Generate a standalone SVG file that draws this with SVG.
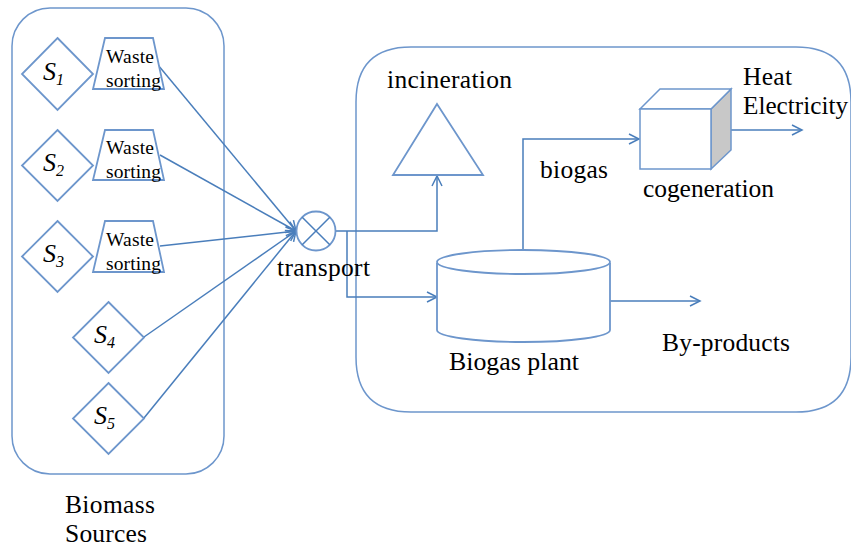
<svg xmlns="http://www.w3.org/2000/svg" width="851" height="549" viewBox="0 0 851 549" font-family="'Liberation Serif','Times New Roman','DejaVu Serif',serif">
<defs>
<style>
.ln{fill:none;stroke:#4a7ebb;stroke-width:1.5}
.sh{fill:#fff;stroke:#6d96cc;stroke-width:1.8}
text{font-family:'Liberation Serif','Times New Roman','DejaVu Serif',serif;fill:#000}
.t{font-size:25.5px}
.ws{font-size:19.5px}
.s{font-size:26px;font-style:italic}
</style>
<marker id="ar" markerUnits="userSpaceOnUse" markerWidth="14" markerHeight="14" refX="11" refY="6" orient="auto">
<path d="M1,1 L11,6 L1,11" fill="none" stroke="#4a7ebb" stroke-width="1.5"/>
</marker>
</defs>
<rect width="851" height="549" fill="#fff"/>

<g id="biomass-box">
<rect x="12" y="8" width="212" height="466" rx="38" ry="38" fill="none" stroke="#6d96cc" stroke-width="1.5"/>
<text class="t" x="65" y="513" textLength="90" lengthAdjust="spacing">Biomass</text>
<text class="t" x="65" y="542" textLength="82" lengthAdjust="spacing">Sources</text>
</g>
<g id="process-box">
<path d="M356,102 Q356,47 411,47 L796,47 Q851,47 851,102 L851,357 Q851,412 796,412 L411,412 Q356,412 356,357 Z" fill="none" stroke="#6d96cc" stroke-width="1.5"/>
</g>

<g id="connectors">
<line class="ln" x1="158" y1="65" x2="296" y2="231" marker-end="url(#ar)"/>
<line class="ln" x1="160" y1="155" x2="296" y2="231" marker-end="url(#ar)"/>
<line class="ln" x1="160" y1="246" x2="296" y2="231" marker-end="url(#ar)"/>
<line class="ln" x1="144" y1="337" x2="296" y2="231" marker-end="url(#ar)"/>
<line class="ln" x1="144" y1="418" x2="296" y2="231" marker-end="url(#ar)"/>
<polyline class="ln" points="336,231 437,231 437,176" marker-end="url(#ar)"/>
<polyline class="ln" points="347,231 347,297 437,297" marker-end="url(#ar)"/>
<polyline class="ln" points="523,250 523,139 639,139" marker-end="url(#ar)"/>
<line class="ln" x1="711" y1="130" x2="802" y2="130" marker-end="url(#ar)"/>
<line class="ln" x1="610" y1="301" x2="700" y2="301" marker-end="url(#ar)"/>
</g>

<g id="S1">
<polygon class="sh" points="57.5,38 93,74 57.5,110 22,74"/>
<text class="s" x="43" y="80">S<tspan font-size="16" dy="5">1</tspan></text>
</g>
<g id="S2">
<polygon class="sh" points="57.5,130 93,165.5 57.5,201 22,165.5"/>
<text class="s" x="43" y="171">S<tspan font-size="16" dy="5">2</tspan></text>
</g>
<g id="S3">
<polygon class="sh" points="57.5,221 93,256.5 57.5,292 22,256.5"/>
<text class="s" x="43" y="262">S<tspan font-size="16" dy="5">3</tspan></text>
</g>
<g id="S4">
<polygon class="sh" points="108.5,302 144,337.5 108.5,373 73,337.5"/>
<text class="s" x="94" y="343">S<tspan font-size="16" dy="5">4</tspan></text>
</g>
<g id="S5">
<polygon class="sh" points="108.5,383 144,418.5 108.5,454 73,418.5"/>
<text class="s" x="94" y="424">S<tspan font-size="16" dy="5">5</tspan></text>
</g>

<g id="sort1">
<polygon class="sh" points="105,38 153,38 164,89 93,89"/>
<text class="ws" x="106" y="63" textLength="48" lengthAdjust="spacing">Waste</text>
<text class="ws" x="106" y="87" textLength="55" lengthAdjust="spacing">sorting</text>
</g>
<g id="sort2">
<polygon class="sh" points="105,130 153,130 164,180 93,180"/>
<text class="ws" x="106" y="154" textLength="48" lengthAdjust="spacing">Waste</text>
<text class="ws" x="106" y="178" textLength="55" lengthAdjust="spacing">sorting</text>
</g>
<g id="sort3">
<polygon class="sh" points="105,221 153,221 164,272 93,272"/>
<text class="ws" x="106" y="246" textLength="48" lengthAdjust="spacing">Waste</text>
<text class="ws" x="106" y="270" textLength="55" lengthAdjust="spacing">sorting</text>
</g>

<g id="transport">
<circle class="sh" cx="316" cy="231" r="19.5"/>
<line class="ln" x1="302.2" y1="217.2" x2="329.8" y2="244.8"/>
<line class="ln" x1="329.8" y1="217.2" x2="302.2" y2="244.8"/>
<text class="t" x="277" y="276" textLength="93" lengthAdjust="spacing">transport</text>
</g>

<g id="incineration">
<polygon class="sh" points="437,104 483,175 393,175"/>
<text class="t" x="387" y="88" textLength="125" lengthAdjust="spacing">incineration</text>
</g>

<g id="biogas-plant">
<path class="sh" d="M437,263 L437,330 A86.5,12 0 0 0 610,330 L610,263"/>
<ellipse class="sh" cx="523.5" cy="262" rx="86.5" ry="12"/>
<text class="t" x="449" y="370" textLength="130" lengthAdjust="spacingAndGlyphs">Biogas plant</text>
</g>

<g id="cogeneration">
<polygon points="711,109 731,89 731,150 711,169" fill="#c8c8c8" stroke="#6d96cc" stroke-width="1.5"/>
<polygon points="640,109 660,89 731,89 711,109" fill="#fff" stroke="#6d96cc" stroke-width="1.5"/>
<rect x="640" y="109" width="71" height="60" fill="#fff" stroke="#6d96cc" stroke-width="1.5"/>
<text class="t" x="643" y="197" textLength="131" lengthAdjust="spacing">cogeneration</text>
</g>

<g id="labels">
<text class="t" x="540" y="178" textLength="68" lengthAdjust="spacing">biogas</text>
<text class="t" x="743" y="85" textLength="49" lengthAdjust="spacing">Heat</text>
<text class="t" x="743" y="114" textLength="105" lengthAdjust="spacingAndGlyphs">Electricity</text>
<text class="t" x="662" y="351" textLength="128" lengthAdjust="spacing">By-products</text>
</g>
</svg>
